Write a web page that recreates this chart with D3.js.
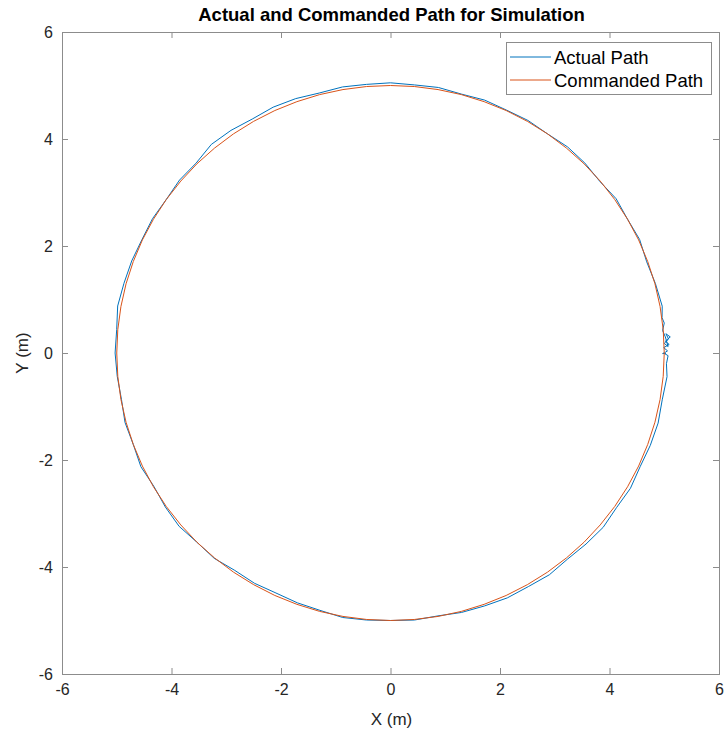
<!DOCTYPE html>
<html><head><meta charset="utf-8">
<script src="https://cdn.jsdelivr.net/npm/d3@7"></script>
<style>body{margin:0;background:#fff}svg{display:block}</style>
</head><body>
<script>
const xTicks = [-6,-4,-2,0,2,4,6];
const yTicks = [-6,-4,-2,0,2,4,6];
const seriesNames = ["Actual Path","Commanded Path"];
const seriesColors = ["#0072BD","#D95319"];

const commandedX = [5.000,4.981,4.924,4.830,4.698,4.532,4.330,4.096,3.830,3.536,3.214,2.868,2.500,2.113,1.710,1.294,0.868,0.436,0.000,
 -0.436,-0.868,-1.294,-1.710,-2.113,-2.500,-2.868,-3.214,-3.536,-3.830,-4.096,-4.330,-4.532,-4.698,-4.830,-4.924,-4.981,-5.000,
 -4.981,-4.924,-4.830,-4.698,-4.532,-4.330,-4.096,-3.830,-3.536,-3.214,-2.868,-2.500,-2.113,-1.710,-1.294,-0.868,-0.436,0.000,
 0.436,0.868,1.294,1.710,2.113,2.500,2.868,3.214,3.536,3.830,4.096,4.330,4.532,4.698,4.830,4.924,4.981,5.000];
const commandedY = [0.000,0.436,0.868,1.294,1.710,2.113,2.500,2.868,3.214,3.536,3.830,4.096,4.330,4.532,4.698,4.830,4.924,4.981,5.000,
 4.981,4.924,4.830,4.698,4.532,4.330,4.096,3.830,3.536,3.214,2.868,2.500,2.113,1.710,1.294,0.868,0.436,0.000,
 -0.436,-0.868,-1.294,-1.710,-2.113,-2.500,-2.868,-3.214,-3.536,-3.830,-4.096,-4.330,-4.532,-4.698,-4.830,-4.924,-4.981,-5.000,
 -4.981,-4.924,-4.830,-4.698,-4.532,-4.330,-4.096,-3.830,-3.536,-3.214,-2.868,-2.500,-2.113,-1.710,-1.294,-0.868,-0.436,0.000];

const actualX = [5.00,5.06,4.99,5.09,5.02,5.11,5.03,5.08,5.00,5.07,5.02,4.97,5.00,4.96,
 4.963,4.839,4.680,4.550,4.330,4.120,3.823,3.550,3.233,2.868,2.510,2.117,1.720,1.297,0.875,0.438,0.000,
 -0.439,-0.877,-1.302,-1.731,-2.143,-2.525,-2.914,-3.272,-3.550,-3.853,-4.096,-4.347,-4.541,-4.727,-4.868,-4.983,-5.001,-5.030,
 -4.991,-4.914,-4.849,-4.698,-4.559,-4.321,-4.112,-3.861,-3.536,-3.220,-2.845,-2.485,-2.092,-1.700,-1.289,-0.872,-0.437,0.000,
 0.437,0.867,1.299,1.720,2.134,2.520,2.902,3.233,3.571,3.884,4.128,4.382,4.559,4.745,4.888,4.963,5.051,5.04,5.07,4.99,4.97,5.03];
const actualY = [0.00,0.04,0.10,0.16,0.22,0.30,0.36,0.26,0.18,0.12,0.30,0.42,0.56,0.66,
 0.875,1.297,1.703,2.122,2.500,2.885,3.208,3.550,3.853,4.096,4.347,4.541,4.727,4.839,4.963,5.011,5.050,
 5.021,4.973,4.859,4.755,4.595,4.373,4.161,3.899,3.550,3.233,2.868,2.510,2.117,1.720,1.304,0.879,0.438,0.000,
 -0.437,-0.867,-1.299,-1.710,-2.126,-2.495,-2.879,-3.240,-3.536,-3.838,-4.063,-4.304,-4.486,-4.670,-4.810,-4.944,-4.991,-5.000,
 -4.991,-4.914,-4.849,-4.727,-4.577,-4.365,-4.145,-3.853,-3.571,-3.259,-2.891,-2.530,-2.126,-1.727,-1.310,-0.875,-0.442,-0.20,-0.05,0.00,-0.01,-0.01];

const W=726,H=736;
const L=62,R=719,T=32,B=674;
const svg=d3.select("body").append("svg").attr("width",W).attr("height",H)
  .style("font-family","'Liberation Sans', Arial, sans-serif");
const x=d3.scaleLinear().domain([-6,6]).range([L,R]);
const y=d3.scaleLinear().domain([-6,6]).range([B,T]);
const axisColor="#262626", boxColor="#8c8c8c";

const tk=6;
const fmt=d=>String(d);
const xa=d3.axisBottom(x).tickValues(xTicks).tickSize(-tk).tickPadding(10).tickFormat(fmt);
const xt=d3.axisTop(x).tickValues(xTicks).tickSize(-tk).tickFormat("");
const ya=d3.axisLeft(y).tickValues(yTicks).tickSize(-tk).tickPadding(9).tickFormat(fmt);
const yr=d3.axisRight(y).tickValues(yTicks).tickSize(-tk).tickFormat("");
function style(g){g.select(".domain").remove();g.selectAll("line").attr("stroke",boxColor);
  g.selectAll("text").attr("fill",axisColor).style("font-size","16px");}
svg.append("g").attr("transform",`translate(0,${B})`).call(xa).call(style);
svg.append("g").attr("transform",`translate(0,${T})`).call(xt).call(style);
svg.append("g").attr("transform",`translate(${L},0)`).call(ya).call(style);
svg.append("g").attr("transform",`translate(${R},0)`).call(yr).call(style);
svg.append("rect").attr("x",L+0.5).attr("y",T+0.5).attr("width",R-L).attr("height",B-T)
  .attr("fill","none").attr("stroke",boxColor).attr("stroke-width",1);

const line=d3.line().x(d=>x(d[0])).y(d=>y(d[1]));
const comm=commandedX.map((v,i)=>[v,commandedY[i]]);
const act=actualX.map((v,i)=>[v,actualY[i]]);
const plot=svg.append("g");
plot.append("path").datum(act).attr("d",line).attr("fill","none").attr("stroke",seriesColors[0]).attr("stroke-width",1);
plot.append("path").datum(comm).attr("d",line).attr("fill","none").attr("stroke",seriesColors[1]).attr("stroke-width",1);

svg.append("text").attr("x",(L+R)/2+1).attr("y",21).attr("text-anchor","middle")
  .style("font-weight","bold").style("font-size","18.5px").attr("fill","#000").text("Actual and Commanded Path for Simulation");
svg.append("text").attr("x",(L+R)/2+1).attr("y",725).attr("text-anchor","middle")
  .style("font-size","17px").attr("fill",axisColor).text("X (m)");
svg.append("text").attr("transform",`translate(28,${(T+B)/2}) rotate(-90)`).attr("text-anchor","middle")
  .style("font-size","17px").attr("fill",axisColor).text("Y (m)");

const lg=svg.append("g");
lg.append("rect").attr("x",506.5).attr("y",42.5).attr("width",205).attr("height",52)
  .attr("fill","#fff").attr("stroke","#8c8c8c");
seriesNames.forEach((n,i)=>{
  const yy=57+i*23;
  lg.append("line").attr("x1",510).attr("x2",551).attr("y1",yy).attr("y2",yy).attr("stroke",seriesColors[i]).attr("stroke-width",1);
  lg.append("text").attr("x",554).attr("y",yy+6.5).style("font-size","18.5px").attr("fill","#000").text(n);
});
</script>
</body></html>
